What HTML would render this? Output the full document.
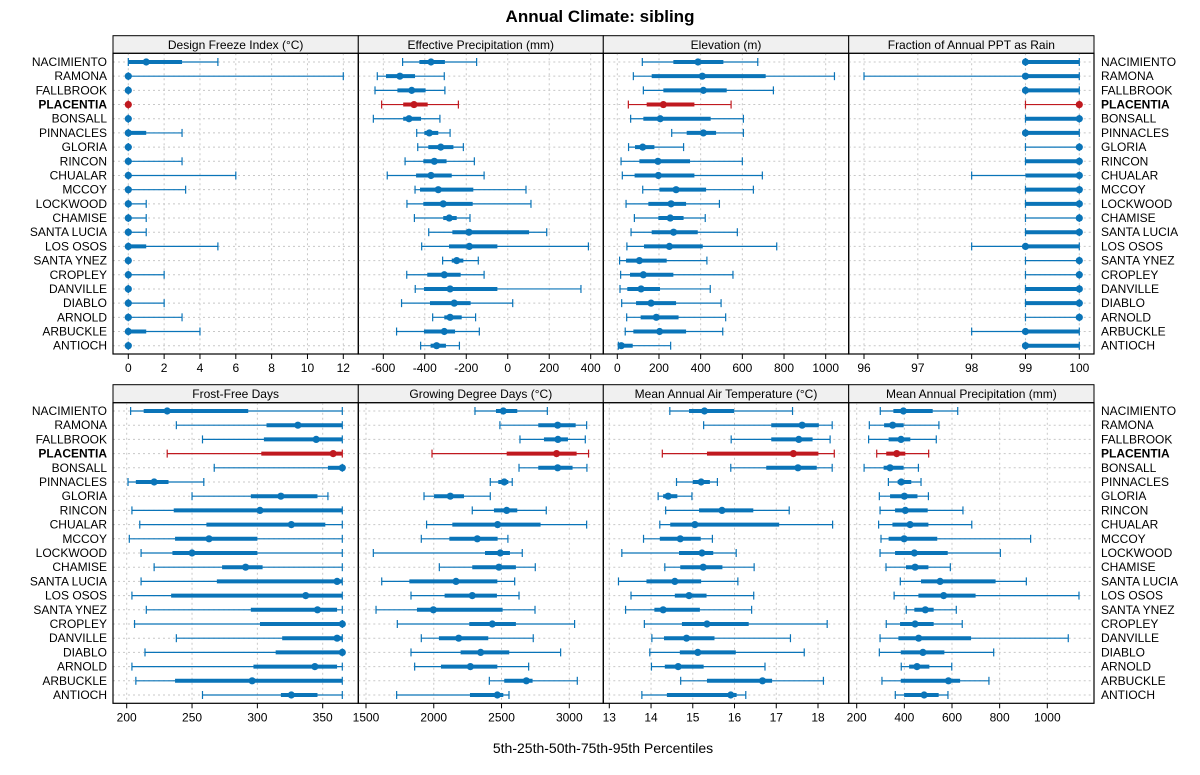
<!DOCTYPE html>
<html><head><meta charset="utf-8"><style>
body{margin:0;background:#fff;}
svg{display:block;font-family:"Liberation Sans",Arial,sans-serif;}
</style></head><body>
<svg id="c" width="1200" height="775" viewBox="0 0 1200 775"></svg>
<script>
const stations=["NACIMIENTO","RAMONA","FALLBROOK","PLACENTIA","BONSALL","PINNACLES","GLORIA","RINCON","CHUALAR","MCCOY","LOCKWOOD","CHAMISE","SANTA LUCIA","LOS OSOS","SANTA YNEZ","CROPLEY","DANVILLE","DIABLO","ARNOLD","ARBUCKLE","ANTIOCH"];
const highlight="PLACENTIA";
const freezeVals=[[0,0,1,3,5],[0,0,0,0,12],[0,0,0,0,0],[0,0,0,0,0],[0,0,0,0,0],[0,0,0,1,3],[0,0,0,0,0],[0,0,0,0,3],[0,0,0,0,6],[0,0,0,0,3.2],[0,0,0,0,1],[0,0,0,0,1],[0,0,0,0,1],[0,0,0,1,5],[0,0,0,0,0],[0,0,0,0,2],[0,0,0,0,0],[0,0,0,0,2],[0,0,0,0,3],[0,0,0,1,4],[0,0,0,0,0]];
const effPrecipVals=[[-507,-426,-370,-303,-150],[-629,-587,-520,-447,-306],[-640,-532,-463,-396,-303],[-608,-504,-452,-386,-238],[-648,-504,-476,-418,-327],[-439,-402,-378,-335,-278],[-434,-383,-323,-262,-214],[-495,-407,-354,-295,-161],[-581,-442,-370,-270,-114],[-447,-423,-335,-166,88],[-486,-407,-311,-169,112],[-450,-311,-282,-246,-182],[-381,-267,-187,103,188],[-415,-283,-185,-50,389],[-314,-270,-246,-214,-142],[-487,-388,-306,-227,-114],[-446,-404,-278,-50,353],[-512,-375,-258,-179,24],[-362,-306,-278,-222,-155],[-536,-404,-306,-254,-137],[-420,-372,-343,-298,-233]];
const elevVals=[[120,269,387,509,674],[77,165,408,712,1042],[125,221,413,525,749],[53,141,221,370,546],[64,125,206,448,605],[261,333,413,474,605],[54,85,122,178,318],[18,106,195,349,600],[24,83,197,370,696],[122,202,282,426,653],[42,149,258,330,490],[82,197,254,318,422],[66,165,270,386,576],[46,128,250,410,765],[11,42,106,237,430],[16,61,125,269,555],[13,48,114,205,446],[21,90,162,282,498],[45,112,187,294,520],[38,77,203,330,506],[5,10,19,74,256]];
const rainVals=[[99,99,99,100,100],[96,99,99,100,100],[99,99,99,100,100],[99,100,100,100,100],[99,99,100,100,100],[99,99,99,100,100],[99,100,100,100,100],[99,99,100,100,100],[98,99,100,100,100],[99,99,100,100,100],[99,99,100,100,100],[99,100,100,100,100],[99,99,100,100,100],[98,99,99,100,100],[99,100,100,100,100],[99,100,100,100,100],[99,99,100,100,100],[99,99,100,100,100],[99,100,100,100,100],[98,99,99,100,100],[99,99,99,100,100]];
const frostVals=[[203,213,231,293,365],[238,307,331,365,365],[258,305,345,365,365],[231,303,358,365,365],[267,354,365,365,365],[201,207,221,232,259],[250,295,318,346,354],[204,236,302,365,365],[210,261,326,352,365],[202,237,263,300,365],[211,235,250,300,365],[221,273,291,304,365],[211,269,361,365,365],[204,234,337,365,365],[215,295,346,361,365],[206,302,365,365,365],[238,319,361,365,365],[214,314,365,365,365],[204,297,344,361,365],[207,237,296,365,365],[258,318,326,346,365]];
const gddVals=[[2304,2459,2513,2616,2838],[2488,2771,2914,3047,3128],[2636,2813,2916,2990,3118],[1987,2538,2906,3054,3142],[2629,2771,2914,3024,3130],[2417,2476,2520,2550,2579],[1928,2002,2122,2223,2417],[2284,2444,2538,2616,2830],[1947,2137,2471,2788,3128],[1908,2115,2321,2471,2547],[1554,2378,2491,2562,2653],[2041,2284,2481,2606,2749],[1616,1820,2164,2469,2597],[1832,2080,2284,2466,2629],[1574,1876,1997,2508,2747],[1731,2262,2432,2606,3039],[1908,2038,2184,2402,2734],[1832,2198,2346,2557,2936],[1859,2053,2270,2469,2700],[2410,2520,2683,2729,3059],[1726,2267,2469,2513,2555]];
const maatVals=[[14.45,14.91,15.28,15.99,17.39],[15.26,16.88,17.62,18.02,18.34],[15.92,16.88,17.54,17.87,18.29],[14.27,15.34,17.41,18.01,18.39],[15.91,16.76,17.52,17.97,18.34],[14.61,15.0,15.2,15.41,15.59],[14.17,14.29,14.41,14.63,14.98],[14.35,15.15,15.7,16.45,17.31],[14.21,14.46,15.05,17.07,18.35],[13.82,14.21,14.7,15.19,15.47],[13.3,14.67,15.22,15.49,16.04],[14.33,14.7,15.25,15.71,16.47],[13.22,13.89,14.57,15.2,16.08],[13.52,14.57,14.91,15.33,16.46],[13.39,14.08,14.29,15.17,16.41],[13.84,14.74,15.34,16.34,18.22],[14.02,14.31,14.85,15.52,17.34],[13.97,14.69,15.12,16.03,17.67],[14.01,14.33,14.65,15.26,16.73],[14.71,15.34,16.67,16.9,18.13],[13.78,14.38,15.91,16.05,16.27]];
const mapVals=[[299,354,396,519,624],[253,315,351,397,545],[250,334,386,425,534],[284,324,368,404,502],[231,313,340,397,459],[333,372,387,429,470],[295,340,400,455,501],[298,361,404,498,646],[292,350,424,501,683],[302,334,399,538,930],[298,361,442,582,803],[323,407,445,501,593],[383,470,550,783,912],[357,459,565,699,1133],[408,442,488,523,618],[324,382,445,523,643],[298,375,460,680,1088],[295,385,478,568,775],[387,420,453,505,599],[306,385,585,634,755],[362,399,483,544,583]];
const freezeTicks=[0,2,4,6,8,10,12];
const effTicks=[-600,-400,-200,0,200,400];
const elevTicks=[0,200,400,600,800,1000];
const rainTicks=[96,97,98,99,100];
const frostTicks=[200,250,300,350];
const gddTicks=[1500,2000,2500,3000];
const maatTicks=[13,14,15,16,17,18];
const mapTicks=[200,400,600,800,1000];

const svg=document.getElementById('c');
const NS="http://www.w3.org/2000/svg";
function mk(tag,attrs,parent){const e=document.createElementNS(NS,tag);for(const k in attrs)e.setAttribute(k,attrs[k]);(parent||svg).appendChild(e);return e;}
const BLUE="#0a74b8",RED="#c0191f";

const panels=[
 {title:"Design Freeze Index (°C)",vals:freezeVals,ticks:freezeTicks,v0:0,p0:128.3,v1:12,p1:343.3,x:113,w:245.3,top:true,name:"freeze"},
 {title:"Effective Precipitation (mm)",vals:effPrecipVals,ticks:effTicks,v0:-600,p0:383.3,v1:400,p1:590.7,x:358.3,w:245,top:true,name:"eff-precip"},
 {title:"Elevation (m)",vals:elevVals,ticks:elevTicks,v0:0,p0:617.3,v1:1000,p1:825.7,x:603.3,w:245.4,top:true,name:"elevation"},
 {title:"Fraction of Annual PPT as Rain",vals:rainVals,ticks:rainTicks,v0:96,p0:864,v1:100,p1:1079.3,x:848.7,w:245.3,top:true,name:"rain-fraction"},
 {title:"Frost-Free Days",vals:frostVals,ticks:frostTicks,v0:200,p0:126.7,v1:350,p1:322.7,x:113,w:245.3,top:false,name:"frost-free"},
 {title:"Growing Degree Days (°C)",vals:gddVals,ticks:gddTicks,v0:1500,p0:366,v1:3000,p1:569.3,x:358.3,w:245,top:false,name:"gdd"},
 {title:"Mean Annual Air Temperature (°C)",vals:maatVals,ticks:maatTicks,v0:13,p0:609.3,v1:18,p1:818,x:603.3,w:245.4,top:false,name:"maat"},
 {title:"Mean Annual Precipitation (mm)",vals:mapVals,ticks:mapTicks,v0:200,p0:856.7,v1:1000,p1:1047.3,x:848.7,w:245.3,top:false,name:"map"}
];
const rowsTop={strip:35.7,plotTop:53.3,bottom:354,y0:62,dy:14.185};
const rowsBot={strip:384.7,plotTop:402.7,bottom:703.3,y0:411,dy:14.2};

let t=mk('text',{x:600,y:22,'text-anchor':'middle','font-size':17,'font-weight':'bold',fill:'#000'});t.textContent="Annual Climate: sibling";


t=mk('text',{x:603,y:753,'text-anchor':'middle','font-size':14,fill:'#000'});t.textContent="5th-25th-50th-75th-95th Percentiles";



[rowsTop,rowsBot].forEach((R,ri)=>{
 stations.forEach((s,i)=>{
  const y=R.y0+i*R.dy+4;
  const b=s===highlight?'bold':'normal';
  let a=mk('text',{x:107,y:y,'text-anchor':'end','font-size':12,'font-weight':b,fill:'#000'});a.textContent=s;
  
  
  let c=mk('text',{x:1101,y:y,'font-size':12,'font-weight':b,fill:'#000'});c.textContent=s;
  
  
 });
});

panels.forEach(P=>{
 const R=P.top?rowsTop:rowsBot;
 const g=mk('g',{});
 
 
 const sx=v=>P.p0+(v-P.v0)*(P.p1-P.p0)/(P.v1-P.v0);
 const st=mk('rect',{x:P.x,y:R.strip,width:P.w,height:R.plotTop-R.strip,fill:'#f0f0f0',stroke:'#000','stroke-width':1},g);
 
 
 const tt=mk('text',{x:P.x+P.w/2,y:R.strip+13.5,'text-anchor':'middle','font-size':12,fill:'#000'},g);tt.textContent=P.title;
 
 
 P.ticks.forEach(v=>{
  const x=sx(v);
  mk('line',{x1:x,x2:x,y1:R.plotTop,y2:R.bottom,stroke:'#c8c8c8','stroke-dasharray':'2,3','stroke-width':1},g);
  mk('line',{x1:x,x2:x,y1:R.bottom,y2:R.bottom+5,stroke:'#000','stroke-width':1},g);
  const lb=mk('text',{x:x,y:R.bottom+18,'text-anchor':'middle','font-size':12,fill:'#000'},g);lb.textContent=String(v);
  
  
 });
 stations.forEach((s,i)=>{
  const y=R.y0+i*R.dy;
  mk('line',{x1:P.x,x2:P.x+P.w,y1:y,y2:y,stroke:'#c8c8c8','stroke-dasharray':'2,3','stroke-width':1},g);
 });
 P.vals.forEach((d,i)=>{
  const y=R.y0+i*R.dy;
  const col=stations[i]===highlight?RED:BLUE;
  const mg=mk('g',{},g);
  
  
  mk('line',{x1:sx(d[0]),x2:sx(d[4]),y1:y,y2:y,stroke:col,'stroke-width':1.2},mg);
  mk('line',{x1:sx(d[0]),x2:sx(d[0]),y1:y-4,y2:y+4,stroke:col,'stroke-width':1.2},mg);
  mk('line',{x1:sx(d[4]),x2:sx(d[4]),y1:y-4,y2:y+4,stroke:col,'stroke-width':1.2},mg);
  if(d[3]>d[1]) mk('line',{x1:sx(d[1]),x2:sx(d[3]),y1:y,y2:y,stroke:col,'stroke-width':4},mg);
  mk('circle',{cx:sx(d[2]),cy:y,r:3.6,fill:col},mg);
 });
 const fr=mk('rect',{x:P.x,y:R.plotTop,width:P.w,height:R.bottom-R.plotTop,fill:'none',stroke:'#000','stroke-width':1.2},g);
 
 
});
</script>
</body></html>
